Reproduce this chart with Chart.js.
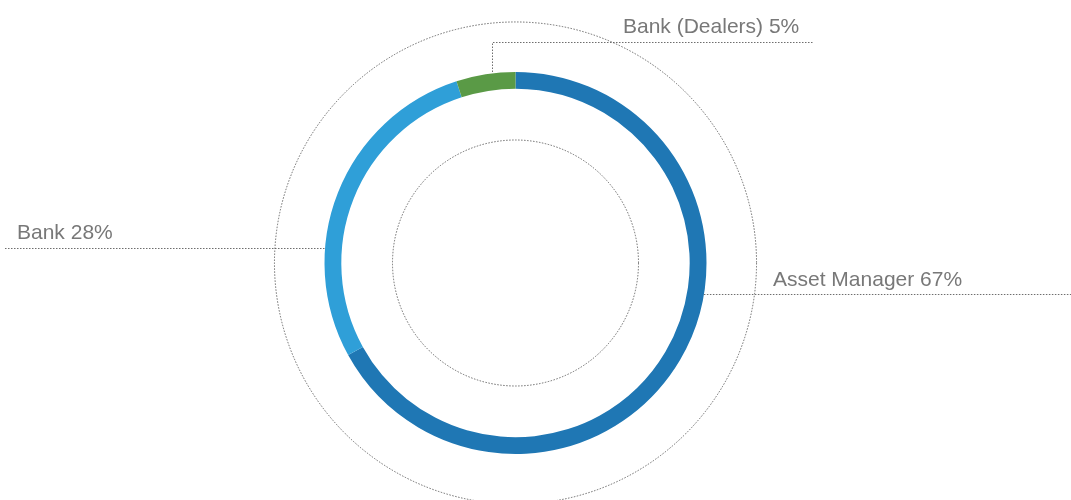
<!DOCTYPE html>
<html>
<head>
<meta charset="utf-8">
<script src="https://cdn.jsdelivr.net/npm/chart.js@4.4.0/dist/chart.umd.min.js"></script>
<style>
html,body{margin:0;padding:0;background:#fff;}
#wrap{width:1071px;height:500px;position:relative;}
</style>
</head>
<body>
<div id="wrap"><canvas id="c"></canvas></div>
<script>
const categories = ["Asset Manager", "Bank", "Bank (Dealers)"];
const shares = [67, 28, 5];
const colors = ["#1f77b4", "#2f9fd8", "#5a9a46"];

const dotted = {
  id: 'dotted',
  afterDraw(chart) {
    const ctx = chart.ctx;
    const arcs = chart.getDatasetMeta(0).data;
    const a0 = arcs[0];
    const cx = a0.x, cy = a0.y, R = a0.outerRadius;
    ctx.save();
    ctx.strokeStyle = 'rgba(85,85,85,0.85)';
    ctx.lineWidth = 1;
    ctx.setLineDash([1.5, 1.5]);
    // guide circles
    ctx.beginPath(); ctx.arc(cx, cy, R * 1.262, 0, Math.PI * 2); ctx.stroke();
    ctx.beginPath(); ctx.arc(cx, cy, R * 0.644, 0, Math.PI * 2); ctx.stroke();
    // leader: Bank (Dealers)
    const lx = Math.round(cx - 23.5) + 0.5;
    const ly = Math.round(cy - 221) + 0.5;
    ctx.beginPath();
    ctx.moveTo(lx, cy - R);
    ctx.lineTo(lx, ly);
    ctx.lineTo(cx + 298.5, ly);
    ctx.stroke();
    // leader: Bank
    const by = Math.round(cy - 15.5) + 0.5;
    ctx.beginPath();
    ctx.moveTo(5, by);
    ctx.lineTo(cx - Math.sqrt(R * R - (by - cy) * (by - cy)), by);
    ctx.stroke();
    // leader: Asset Manager
    const ay = Math.round(cy + 31) + 0.5;
    ctx.beginPath();
    ctx.moveTo(cx + Math.sqrt(R * R - (ay - cy) * (ay - cy)), ay);
    ctx.lineTo(chart.width, ay);
    ctx.stroke();
    ctx.setLineDash([]);
    // labels
    ctx.fillStyle = '#787878';
    ctx.font = '21px "Liberation Sans", Arial, sans-serif';
    ctx.textBaseline = 'alphabetic';
    ctx.textAlign = 'left';
    ctx.fillText(categories[2] + ' ' + shares[2] + '%', 623, 33);
    ctx.fillText(categories[1] + ' ' + shares[1] + '%', 17, 239);
    ctx.fillText(categories[0] + ' ' + shares[0] + '%', 773, 286);
    ctx.restore();
  }
};

new Chart(document.getElementById('c'), {
  type: 'doughnut',
  data: {
    labels: categories,
    datasets: [{
      data: shares,
      backgroundColor: colors,
      borderWidth: 0
    }]
  },
  options: {
    responsive: true,
    maintainAspectRatio: false,
    animation: false,
    cutout: '91.2%',
    layout: { padding: { left: 0, right: 40, top: 72, bottom: 46 } },
    plugins: { legend: { display: false }, tooltip: { enabled: false } }
  },
  plugins: [dotted]
});
</script>
</body>
</html>
